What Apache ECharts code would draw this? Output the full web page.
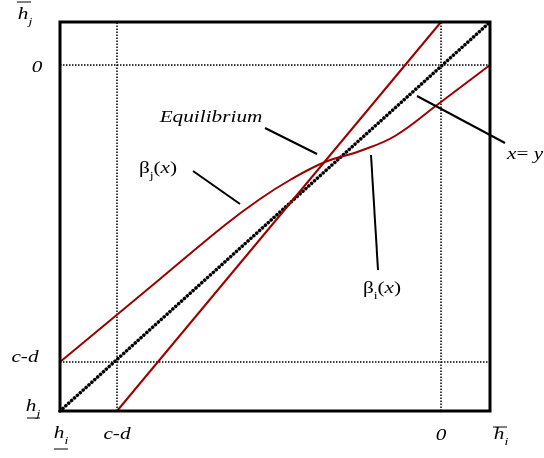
<!DOCTYPE html>
<html>
<head>
<meta charset="utf-8">
<script src="https://cdn.jsdelivr.net/npm/echarts@6/dist/echarts.min.js"></script>
<style>
  html, body { margin: 0; padding: 0; background: #fff; }
  #main { width: 544px; height: 458px; }
</style>
</head>
<body>
<div id="main"></div>
<script>
// plot range (h_i on x, h_j on y)
const xMax = 430
const yMax = 389
// dotted reference lines: c-d and 0
const xRefs = [57, 381]
const yRefs = [49, 346]
// x = y
const diag = [[0, 0], [430, 389]]
// beta_i(x)
const betaI = [[57, 0], [381, 389]]
// beta_j(x)
const betaJ = [[0, 49], [100, 132], [165, 186], [200, 212], [230, 231], [265, 249],
  [300, 260], [335, 275], [377, 306], [430, 346]]
// leader lines for the annotations
const leaderEq = [[205, 283], [257, 257]]
const leaderBj = [[133, 240], [180, 207]]
const leaderBi = [[311, 256], [318, 141]]
const leaderXY = [[357, 315], [445, 268]]

const RED = '#990000'
const serif = "'Liberation Serif', 'Times New Roman', serif"

const chart = echarts.init(document.getElementById('main'))

function line(data, color, width, type, extra) {
  return Object.assign({
    type: 'line',
    data: data,
    symbol: 'none',
    silent: true,
    lineStyle: { color: color, width: width, type: type }
  }, extra || {})
}

const series = []
xRefs.forEach(x => series.push(line([[x, 0], [x, yMax]], '#000', 1.5, [1.5, 1.5])))
yRefs.forEach(y => series.push(line([[0, y], [xMax, y]], '#000', 1.5, [1.5, 1.5])))
series.push(line(diag, '#000', 3, [0.1, 3.6], { lineStyle: { color: '#000', width: 3.5, type: [0.1, 3.8], cap: 'round' } }))
series.push(line(betaI, RED, 2, 'solid'))
series.push(line(betaJ, RED, 2, 'solid', { smooth: 0.4 }))

// text helpers (the reference text is stretched horizontally)
const rich = {
  n: { fontFamily: serif, fontSize: 17, lineHeight: 22, verticalAlign: 'top' },
  i: { fontFamily: serif, fontSize: 17, fontStyle: 'italic', lineHeight: 22, verticalAlign: 'top' },
  s: { fontFamily: serif, fontSize: 11, lineHeight: 11, verticalAlign: 'bottom' },
  si: { fontFamily: serif, fontSize: 11, fontStyle: 'italic', lineHeight: 11, verticalAlign: 'bottom' }
}
function txt(str, x, y, align) {
  return {
    type: 'text', x: x, y: y, scaleX: 1.25, z: 10,
    style: {
      text: str, rich: rich, fill: '#000',
      font: '17px ' + serif,
      align: align || 'center', textAlign: align || 'center',
      verticalAlign: 'middle', textVerticalAlign: 'middle'
    }
  }
}
function bar(x1, x2, y) {
  return { type: 'line', z: 10, shape: { x1: x1, y1: y, x2: x2, y2: y }, style: { stroke: '#000', lineWidth: 1 } }
}

const labels = [
  txt('{i|Equilibrium}', 211, 120),
  txt('{n|β}{s|j}{n|(}{i|x}{n|)}', 158, 171),
  txt('{n|β}{s|i}{n|(}{i|x}{n|)}', 382, 291),
  txt('{i|x}{n|= }{i|y}', 507, 157, 'left'),
  txt('{i|0}', 37, 70),
  txt('{i|c-d}', 25, 360),
  txt('{i|c-d}', 117, 437),
  txt('{i|0}', 441, 438),
  txt('{i|h}{si|j}', 25, 17),
  bar(17, 31, 2),
  txt('{i|h}{si|j}', 33, 409),
  bar(27, 40, 418),
  txt('{i|h}{si|i}', 61, 436),
  bar(54, 68, 449),
  txt('{i|h}{si|i}', 501, 437),
  bar(493, 507, 427)
]

chart.setOption({
  animation: false,
  backgroundColor: '#fff',
  grid: { left: 60, top: 22, width: xMax, height: yMax, show: true, borderColor: '#000', borderWidth: 3, z: 4 },
  xAxis: { type: 'value', min: 0, max: xMax, show: false },
  yAxis: { type: 'value', min: 0, max: yMax, show: false },
  series: series
})

// leader lines may run past the frame, so place them through the axes as graphics
const leaders = [leaderEq, leaderBj, leaderBi, leaderXY].map(d => {
  const p1 = chart.convertToPixel({ gridIndex: 0 }, d[0])
  const p2 = chart.convertToPixel({ gridIndex: 0 }, d[1])
  return { type: 'line', z: 8, shape: { x1: p1[0], y1: p1[1], x2: p2[0], y2: p2[1] }, style: { stroke: '#000', lineWidth: 2 } }
})
chart.setOption({ graphic: leaders.concat(labels) })
</script>
</body>
</html>
